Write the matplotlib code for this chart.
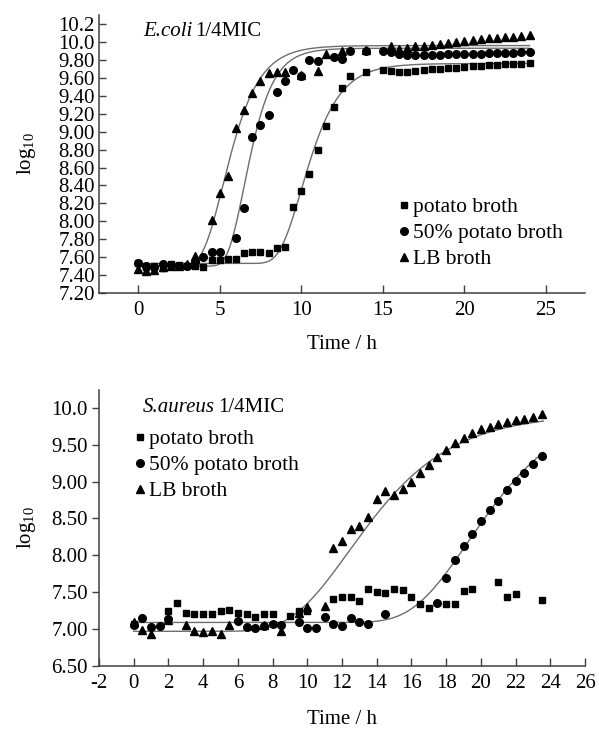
import matplotlib
matplotlib.use('Agg')
import matplotlib.pyplot as plt
import numpy as np

plt.rcParams['font.family'] = ['Liberation Serif', 'DejaVu Serif']
plt.rcParams['mathtext.fontset'] = 'custom'
plt.rcParams['mathtext.rm'] = 'Liberation Serif'
plt.rcParams['mathtext.it'] = 'Liberation Serif:italic'
plt.rcParams['font.size'] = 15
plt.rcParams['axes.unicode_minus'] = False

# ---- E.coli 1/4MIC (top panel) ----
ec_potato_t = [0, 0.5, 1, 1.5, 2, 2.5, 3, 3.5, 4, 4.5, 5, 5.5, 6, 6.5, 7, 7.5, 8, 8.5, 9,
               9.5, 10, 10.5, 11, 11.5, 12, 12.5, 13, 14, 15, 15.5, 16, 16.5, 17, 17.5,
               18, 18.5, 19, 19.5, 20, 20.5, 21, 21.5, 22, 22.5, 23, 23.5, 24]
ec_potato_v = [7.53, 7.49, 7.50, 7.48, 7.52, 7.51, 7.50, 7.50, 7.49, 7.57, 7.57, 7.58, 7.58,
               7.65, 7.66, 7.66, 7.65, 7.70, 7.71, 8.16, 8.34, 8.53, 8.80, 9.06, 9.28, 9.49,
               9.62, 9.67, 9.69, 9.68, 9.66, 9.67, 9.68, 9.69, 9.70, 9.70, 9.71, 9.71, 9.72,
               9.73, 9.73, 9.74, 9.74, 9.75, 9.75, 9.76, 9.77]

ec_half_t = [0, 0.5, 1, 1.5, 2, 2.5, 3, 3.5, 4, 4.5, 5, 6, 6.5, 7, 7.5, 8, 8.5, 9, 9.5, 10,
             10.5, 11, 12, 12.5, 13, 14, 15, 15.5, 16, 16.5, 17, 17.5, 18, 18.5, 19, 19.5,
             20, 20.5, 21, 21.5, 22, 22.5, 23, 23.5, 24]
ec_half_v = [7.53, 7.50, 7.49, 7.52, 7.51, 7.50, 7.50, 7.55, 7.60, 7.66, 7.66, 7.81, 8.15,
             8.94, 9.07, 9.19, 9.44, 9.57, 9.69, 9.62, 9.80, 9.79, 9.83, 9.81, 9.90, 9.90,
             9.90, 9.89, 9.87, 9.86, 9.86, 9.86, 9.86, 9.86, 9.87, 9.87, 9.87, 9.87, 9.87,
             9.88, 9.88, 9.88, 9.88, 9.89, 9.89]

ec_lb_t = [0, 0.5, 1, 1.5, 2, 2.5, 3, 3.5, 4.5, 5, 5.5, 6, 6.5, 7, 7.5, 8, 8.5, 9, 10, 11,
           11.5, 12.5, 14, 15.5, 16, 16.5, 17, 17.5, 18, 18.5, 19, 19.5, 20, 20.5, 21, 21.5,
           22, 22.5, 23, 23.5, 24]
ec_lb_v = [7.47, 7.45, 7.46, 7.49, 7.50, 7.50, 7.52, 7.61, 8.02, 8.32, 8.51, 9.04, 9.24,
           9.43, 9.56, 9.65, 9.67, 9.66, 9.63, 9.68, 9.87, 9.90, 9.91, 9.95, 9.92, 9.93,
           9.95, 9.96, 9.97, 9.98, 9.99, 10.00, 10.01, 10.02, 10.03, 10.04, 10.05, 10.06,
           10.06, 10.07, 10.08]

# Gompertz fit parameters: lower, amplitude, inflection time, rate
ec_potato_fit = (7.53, 2.23, 10.0, 0.75)
ec_half_fit = (7.50, 2.43, 6.5, 1.0)
ec_lb_fit = (7.50, 2.46, 5.2, 0.8)

ec_yticks = [7.2, 7.4, 7.6, 7.8, 8.0, 8.2, 8.4, 8.6, 8.8, 9.0, 9.2, 9.4, 9.6, 9.8, 10.0, 10.2]
ec_ylabels = ['7.20', '7.40', '7.60', '7.80', '8.00', '8.20', '8.40', '8.60', '8.80', '9.00',
              '9.20', '9.40', '9.60', '9.80', '10.0', '10.2']
ec_xticks = [0, 5, 10, 15, 20, 25]

# ---- S.aureus 1/4MIC (bottom panel) ----
sa_potato_t = [0, 2, 2.5, 3, 3.5, 4, 4.5, 5, 5.5, 6, 6.5, 7, 7.5, 8, 9, 9.5, 10, 11.5, 12,
               12.5, 13, 13.5, 14, 14.5, 15, 15.5, 16, 16.5, 17, 18, 18.5, 19, 19.5, 21,
               21.5, 22, 23.5]
sa_potato_v = [7.07, 7.25, 7.36, 7.22, 7.21, 7.21, 7.21, 7.25, 7.26, 7.22, 7.21, 7.16, 7.21,
               7.21, 7.18, 7.25, 7.25, 7.41, 7.44, 7.44, 7.38, 7.54, 7.50, 7.49, 7.55, 7.53,
               7.44, 7.34, 7.28, 7.34, 7.34, 7.51, 7.54, 7.64, 7.44, 7.47, 7.40]

sa_half_t = [0, 0.5, 1, 1.5, 2, 6, 6.5, 7, 7.5, 8, 8.5, 9.5, 10, 10.5, 11, 11.5, 12, 12.5,
             13, 13.5, 14.5, 17.5, 18, 18.5, 19, 19.5, 20, 20.5, 21, 21.5, 22, 22.5, 23, 23.5]
sa_half_v = [7.05, 7.15, 7.03, 7.04, 7.14, 7.11, 7.03, 7.02, 7.04, 7.07, 7.06, 7.10, 7.02,
             7.02, 7.17, 7.07, 7.04, 7.15, 7.09, 7.07, 7.20, 7.35, 7.69, 7.94, 8.12, 8.29,
             8.46, 8.61, 8.74, 8.88, 9.01, 9.12, 9.24, 9.34]

sa_lb_t = [0, 0.5, 1, 2, 3, 3.5, 4, 4.5, 5, 5.5, 7.5, 8.5, 9.5, 10, 11, 11.5, 12, 12.5, 13,
           13.5, 14, 14.5, 15, 15.5, 16, 16.5, 17, 17.5, 18, 18.5, 19, 19.5, 20, 20.5, 21,
           21.5, 22, 22.5, 23, 23.5]
sa_lb_v = [7.10, 6.99, 6.93, 7.12, 7.05, 6.97, 6.96, 6.97, 6.94, 7.05, 7.06, 6.98, 7.22,
           7.30, 7.31, 8.10, 8.20, 8.35, 8.40, 8.52, 8.76, 8.87, 8.82, 8.90, 9.00, 9.11,
           9.23, 9.33, 9.43, 9.52, 9.59, 9.66, 9.71, 9.74, 9.78, 9.81, 9.84, 9.85, 9.88, 9.91]

sa_half_fit = (7.09, 3.0, 19.3, 0.31)
sa_lb_fit = (6.97, 2.95, 12.4, 0.3)

sa_yticks = [6.5, 7.0, 7.5, 8.0, 8.5, 9.0, 9.5, 10.0]
sa_ylabels = ['6.50', '7.00', '7.50', '8.00', '8.50', '9.00', '9.50', '10.0']
sa_xticks = list(range(-2, 27, 2))


def gompertz(t, a, c, m, b):
    return a + c * np.exp(-np.exp(-b * (t - m)))


def style_axes(ax):
    for side in ['top', 'right']:
        ax.spines[side].set_visible(False)
    for side in ['left', 'bottom']:
        ax.spines[side].set_color('#404040')
        ax.spines[side].set_linewidth(1.1)
    ax.tick_params(colors='#404040', labelcolor='black', width=1)


def panel_title(ax, species, y):
    # italic species name followed by upright "1/4MIC"
    t1 = ax.text(0.09, y, species, transform=ax.transAxes, ha='left', va='center',
                 fontstyle='italic')
    fig.canvas.draw()
    bb = t1.get_window_extent().transformed(ax.transAxes.inverted())
    ax.text(bb.x1 + 0.007, y, '1/4MIC', transform=ax.transAxes, ha='left', va='center')


fig = plt.figure(figsize=(5.99, 7.29), dpi=100)
ax1 = fig.add_axes([0.1653, 0.598, 0.8114, 0.3813])
ax2 = fig.add_axes([0.1653, 0.0864, 0.8114, 0.3786])

mk = dict(color='black', linestyle='none')
fit_kw = dict(color='#6e6e6e', lw=1.0, zorder=1)
leg_kw = dict(loc='upper left', frameon=False, handlelength=0.6, handletextpad=0.1,
              labelspacing=0.28, borderpad=0, borderaxespad=0, fontsize=15.5)

# top panel
tt = np.linspace(0, 24, 300)
for p in [ec_potato_fit, ec_half_fit, ec_lb_fit]:
    ax1.plot(tt, gompertz(tt, *p), **fit_kw)
ax1.plot(ec_potato_t, ec_potato_v, marker='s', ms=5, label='potato broth', **mk)
ax1.plot(ec_half_t, ec_half_v, marker='o', ms=5.5, label='50% potato broth', **mk)
ax1.plot(ec_lb_t, ec_lb_v, marker='^', ms=6, label='LB broth', **mk)

ax1.set_xlim(-2.4, 27.4)
ax1.set_ylim(7.2, 10.3)
ax1.set_xticks(ec_xticks)
ax1.set_yticks(ec_yticks)
ax1.set_yticklabels(ec_ylabels)
style_axes(ax1)
ax1.tick_params(axis='x', direction='in', length=6, pad=6)
ax1.tick_params(axis='y', direction='in', length=5, pad=3)
ax1.set_xlabel('Time / h')
ax1.xaxis.set_label_coords(0.5, -0.15)
ax1.set_ylabel(r'$\mathregular{log_{10}}$')
ax1.yaxis.set_label_coords(-0.125, 0.5)
panel_title(ax1, 'E.coli', 0.94)
ax1.legend(bbox_to_anchor=(0.615, 0.345), **leg_kw)

# bottom panel
tt = np.linspace(0, 23.6, 300)
for p in [sa_half_fit, sa_lb_fit]:
    ax2.plot(tt, gompertz(tt, *p), **fit_kw)
ax2.plot(sa_potato_t, sa_potato_v, marker='s', ms=5, label='potato broth', **mk)
ax2.plot(sa_half_t, sa_half_v, marker='o', ms=5.5, label='50% potato broth', **mk)
ax2.plot(sa_lb_t, sa_lb_v, marker='^', ms=6, label='LB broth', **mk)

ax2.set_xlim(-2, 26)
ax2.set_ylim(6.5, 10.24)
ax2.set_xticks(sa_xticks)
ax2.set_yticks(sa_yticks)
ax2.set_yticklabels(sa_ylabels)
style_axes(ax2)
ax2.tick_params(axis='x', direction='in', length=6, pad=6)
ax2.tick_params(axis='y', direction='out', length=5, pad=3)
ax2.set_xlabel('Time / h')
ax2.xaxis.set_label_coords(0.5, -0.16)
ax2.set_ylabel(r'$\mathregular{log_{10}}$')
ax2.yaxis.set_label_coords(-0.125, 0.5)
panel_title(ax2, 'S.aureus', 0.938)
ax2.legend(bbox_to_anchor=(0.072, 0.858), **leg_kw)

fig.savefig('out.png', dpi=100)
